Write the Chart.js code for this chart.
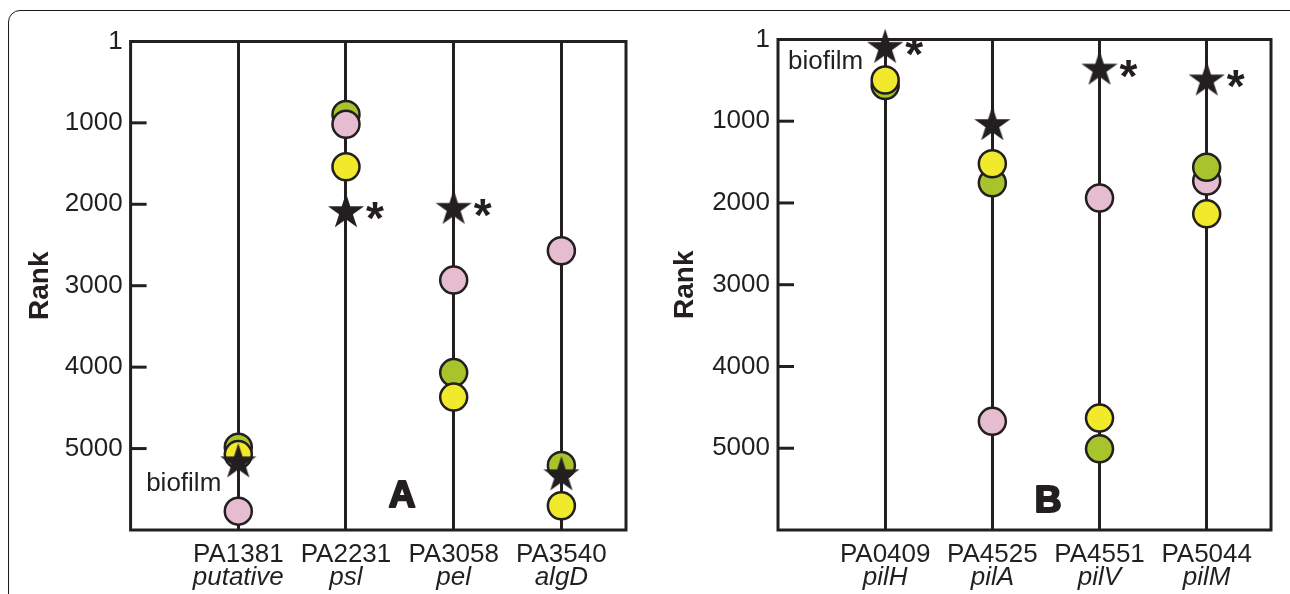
<!DOCTYPE html>
<html>
<head>
<meta charset="utf-8">
<script src="https://cdn.jsdelivr.net/npm/chart.js@4.4.1/dist/chart.umd.min.js"></script>
<style>
  html, body { margin: 0; padding: 0; background: #fff; overflow: hidden; }
  #wrap { position: relative; width: 1290px; height: 594px; }
  #frame { position: absolute; left: 8px; top: 10px; width: 1300px; height: 700px;
           border: 1.5px solid #1a1a1a; border-radius: 12px; box-sizing: border-box; }
  canvas { position: absolute; top: 0; }
</style>
</head>
<body>
<div id="wrap">
  <div id="frame"></div>
  <canvas id="panelA" width="645" height="594" style="left:0"></canvas>
  <canvas id="panelB" width="645" height="594" style="left:645px"></canvas>
</div>
<script>
// panel A
const catsA   = ["PA1381", "PA2231", "PA3058", "PA3540"]
const genesA  = ["putative", "psl", "pel", "algD"]
const greenA  = [4983, 896, 4067, 5207]
const pinkA   = [5769, 1017, 2931, 2571]
const yellowA = [5074, 1539, 4368, 5702]
const starA   = [5155, 2083, 2042, 5314]
const sigA    = [false, true, true, false]

// panel B
const catsB   = ["PA0409", "PA4525", "PA4551", "PA5044"]
const genesB  = ["pilH", "pilA", "pilV", "pilM"]
const greenB  = [564, 1754, 5007, 1563]
const pinkB   = [null, 4671, 1940, 1732]
const yellowB = [496, 1521, 4631, 2133]
const starB   = [90, 1034, 356, 488]
const sigB    = [true, false, true, true]

const yTicks = [1, 1000, 2000, 3000, 4000, 5000]

const INK    = "#231f20"
const GREEN  = "#a8c42d"
const PINK   = "#e6bdd0"
const YELLOW = "#f1e92b"
const FONT   = "'Liberation Sans', Arial, sans-serif"

// filled five point star used as point image
function makeStar(R) {
    let c = document.createElement("canvas")
    c.width = 42
    c.height = 42
    let g = c.getContext("2d")
    g.translate(21, 22)
    g.beginPath()
    for (let k = 0; k < 10; k++) {
        let r = k % 2 === 0 ? R : R * 0.382
        let a = -Math.PI / 2 + k * Math.PI / 5
        g.lineTo(r * Math.cos(a), r * Math.sin(a))
    }
    g.closePath()
    g.fillStyle = INK
    g.fill()
    return c
}
const starImg = makeStar(19)

const pts = arr => arr.map((v, i) => ({ x: i, y: v })).filter(p => p.y !== null)

function circleSet(arr, color, order) {
    return {
        data: pts(arr),
        order: order,
        pointStyle: "circle",
        pointRadius: 13.5,
        pointBackgroundColor: color,
        pointBorderColor: INK,
        pointBorderWidth: 2.5,
        showLine: false,
        clip: false
    }
}

const decor = {
    id: "decor",
    beforeDatasetsDraw(chart, args, o) {
        let { ctx, chartArea: a } = chart
        let y = chart.scales.y
        ctx.save()
        ctx.strokeStyle = INK
        ctx.lineWidth = 3
        ctx.strokeRect(a.left, a.top, a.right - a.left, a.bottom - a.top)
        yTicks.forEach(v => {
            if (v === 1) return
            let py = y.getPixelForValue(v)
            ctx.beginPath()
            ctx.moveTo(a.left, py)
            ctx.lineTo(a.left + 16, py)
            ctx.stroke()
        })
        ctx.restore()
    },
    afterDatasetsDraw(chart, args, o) {
        let { ctx, chartArea: a } = chart
        let x = chart.scales.x
        let y = chart.scales.y
        ctx.save()
        ctx.fillStyle = INK
        ctx.strokeStyle = INK

        // asterisks next to significant stars
        ctx.font = "bold 46px " + FONT
        ctx.textAlign = "center"
        ctx.textBaseline = "alphabetic"
        let m = ctx.measureText("*")
        let mid = (m.actualBoundingBoxAscent - m.actualBoundingBoxDescent) / 2
        o.stars.forEach((v, i) => {
            if (!o.sig[i]) return
            ctx.fillText("*", x.getPixelForValue(i) + 29, y.getPixelForValue(v) + mid)
        })

        // biofilm label
        ctx.font = "26px " + FONT
        ctx.textAlign = "right"
        ctx.fillText("biofilm", x.getPixelForValue(0) + o.bioDx, y.getPixelForValue(o.stars[0]) + o.bioDy)

        // panel letter, heavy
        ctx.font = "bold 37px " + FONT
        ctx.textAlign = "center"
        ctx.lineWidth = 2.2
        ctx.lineJoin = "round"
        let lx = x.getPixelForValue(1.52)
        ctx.fillText(o.letter, lx, a.bottom - o.letterDy)
        ctx.strokeText(o.letter, lx, a.bottom - o.letterDy)

        // two line category labels
        o.cats.forEach((c, i) => {
            let px = x.getPixelForValue(i)
            ctx.font = "26px " + FONT
            ctx.fillText(c, px, a.bottom + 32)
            ctx.font = "italic 26px " + FONT
            ctx.fillText(o.genes[i], px, a.bottom + 55)
        })
        ctx.restore()
    }
}

function makePanel(id, cats, genes, datasets, stars, sig, p) {
    new Chart(document.getElementById(id), {
        type: "scatter",
        data: {
            datasets: [
                {
                    data: pts(stars),
                    order: 0,
                    pointStyle: starImg,
                    pointRadius: 18,
                    showLine: false,
                    clip: false
                },
                ...datasets
            ]
        },
        options: {
            responsive: false,
            animation: false,
            events: [],
            layout: { padding: { left: 0, right: p.right, top: p.top, bottom: 64 } },
            plugins: {
                legend: { display: false },
                tooltip: { enabled: false },
                decor: {
                    cats: cats, genes: genes, stars: stars, sig: sig,
                    letter: p.letter, letterDy: p.letterDy,
                    bioDx: p.bioDx, bioDy: p.bioDy
                }
            },
            scales: {
                x: {
                    type: "linear",
                    min: -1,
                    max: 3.6,
                    afterBuildTicks: s => { s.ticks = cats.map((c, i) => ({ value: i })) },
                    ticks: { display: false },
                    grid: { color: INK, lineWidth: 3, drawTicks: false },
                    border: { display: false }
                },
                y: {
                    type: "linear",
                    reverse: true,
                    min: 1,
                    max: 6000,
                    afterBuildTicks: s => { s.ticks = yTicks.map(v => ({ value: v })) },
                    afterFit: s => { s.width = p.axisWidth },
                    ticks: {
                        autoSkip: false,
                        padding: 8,
                        color: INK,
                        font: { family: FONT, size: 26 },
                        callback: v => String(v)
                    },
                    grid: { display: false, drawTicks: false },
                    border: { display: false },
                    title: {
                        display: true,
                        text: "Rank",
                        color: INK,
                        font: { family: FONT, size: 28, weight: "bold" },
                        padding: { top: 23, bottom: 0 }
                    }
                }
            }
        },
        plugins: [decor]
    })
}

makePanel("panelA", catsA, genesA, [
    circleSet(yellowA, YELLOW, 1),
    circleSet(pinkA, PINK, 2),
    circleSet(greenA, GREEN, 3)
], starA, sigA, { axisWidth: 130.6, right: 15.6, top: 41.5, letter: "A", letterDy: 23, bioDx: -17, bioDy: 30 })

makePanel("panelB", catsB, genesB, [
    circleSet(yellowB, YELLOW, 1),
    circleSet(greenB, GREEN, 2),
    circleSet(pinkB, PINK, 3)
], starB, sigB, { axisWidth: 133, right: 15, top: 39.5, letter: "B", letterDy: 18, bioDx: -22, bioDy: 22 })
</script>
</body>
</html>
